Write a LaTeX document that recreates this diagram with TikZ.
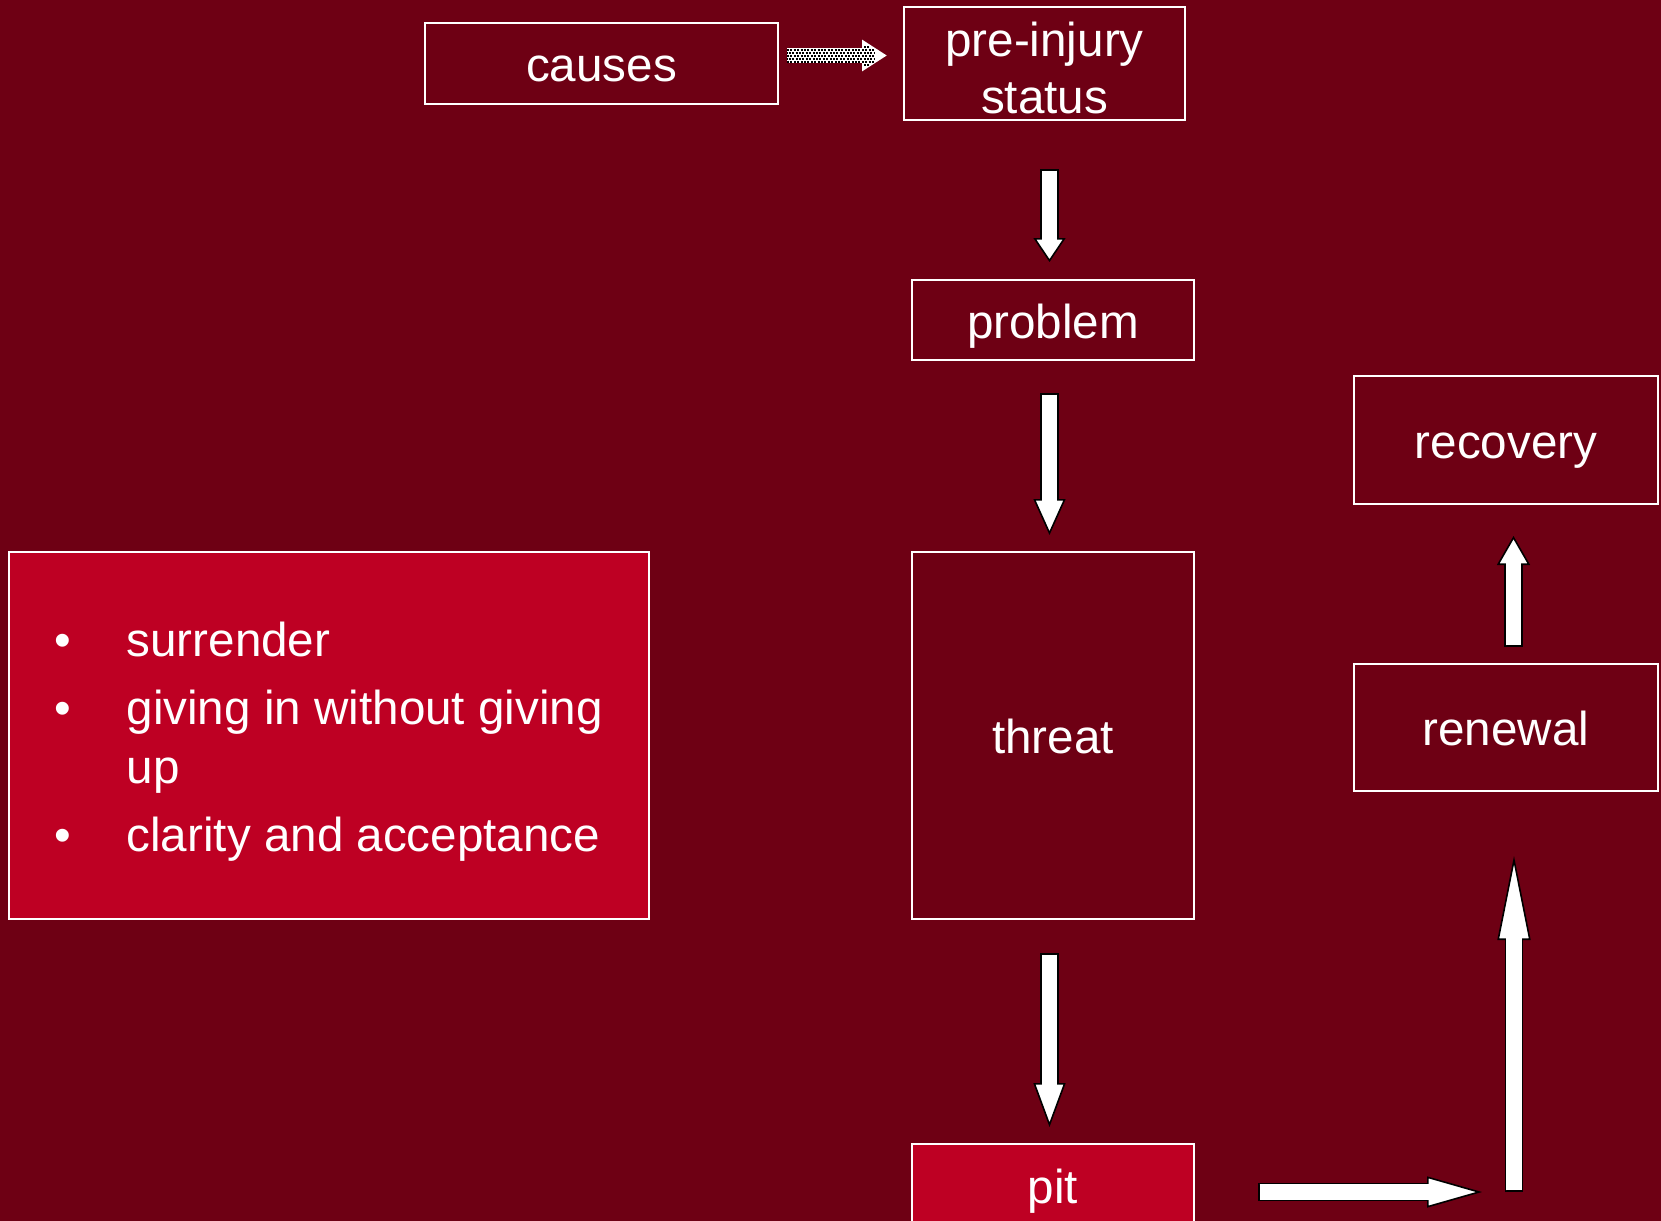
\documentclass[tikz,border=0pt]{standalone}
\usepackage{fontspec}
\setmainfont{Liberation Sans}
\usetikzlibrary{arrows.meta}
\definecolor{wine}{RGB}{110,0,20}
\definecolor{scarlet}{RGB}{190,0,35}
\newcommand{\blockarrow}[4]{%
  \draw[arrowrim, -{Triangle[#1, fill=white, line width=0.8pt]}] #3 -- #4;
  \draw[arrowbody, shorten >=#2] #3 -- #4;}
\begin{document}
\begin{tikzpicture}[
    x=0.5pt, y=-0.5pt,
    box/.style={rectangle, draw=white, line width=1pt, text=white, inner sep=0pt, align=center, font=\fontsize{23.8}{28.5}\selectfont},
    oneline/.style={box, text height=23pt, text depth=5pt},
    arrowrim/.style={black, line width=9.3pt},
    arrowbody/.style={white, line width=7.7pt, shorten <=0.8pt},
    dotrow/.style={draw=black, line width=1pt, dash pattern=on 1pt off 0.7pt, -, shorten >=6pt, transform canvas={yshift=#1}},
    headrow/.style={dotrow=#1, shorten <=38.5pt, shorten >=8.5pt},
    dotarrow/.style={draw=white, line width=7.5pt, -{Triangle[length=12.5pt, width=15pt]},
        postaction={dotrow=-3pt}, postaction={dotrow=-1.5pt, dash phase=0.85pt}, postaction={dotrow=0pt},
        postaction={dotrow=1.5pt, dash phase=0.85pt}, postaction={dotrow=3pt},
        postaction={headrow=-4.5pt}, postaction={headrow=4.5pt}},
]
\useasboundingbox (0,0) rectangle (1661,1221);
\fill[wine] (0,0) rectangle (1661,1221);

\node[oneline, minimum width=176.5pt, minimum height=40.5pt] (causes) at (601.5,63.5) {causes};
\node[box, minimum width=140.5pt, minimum height=56.5pt] (pre) at (1044.5,63.5) {\rule{0pt}{21.5pt}pre-injury\\status};
\node[oneline, minimum width=141pt, minimum height=40pt] (problem) at (1053,320) {problem};
\node[oneline, minimum width=141pt, minimum height=183.5pt] (threat) at (1053,735.5) {threat};
\node[oneline, fill=scarlet, minimum width=141pt, minimum height=41pt] (pit) at (1053,1185) {pit};
\node[oneline, minimum width=152pt, minimum height=63.5pt] (renewal) at (1506,727.5) {renewal};
\node[oneline, minimum width=152pt, minimum height=64pt] (recovery) at (1506,440) {recovery};
\node[box, fill=scarlet, minimum width=320.25pt, minimum height=183.5pt, font=\fontsize{23.8}{29.5}\selectfont] (coping) at (328.75,735.5) {%
  \begin{tabular}{@{}p{36pt}@{}l@{}}
  \rule{0pt}{27.3pt}\textbullet & surrender\\[4.5pt]
  \textbullet & giving in without giving\\
              & up\\[4.5pt]
  \textbullet & clarity and acceptance
  \end{tabular}};
\coordinate (bend) at (1514,1192);

\draw[dotarrow] ([xshift=4pt,yshift=4pt]causes.east) -- ([xshift=-8pt,yshift=4pt]pre.west);
\blockarrow{length=12pt, width=16pt}{11pt}{([xshift=2.5pt,yshift=-24pt]pre.south)}{([xshift=-1.75pt,yshift=8.5pt]problem.north)}
\blockarrow{length=18pt, width=16pt}{17pt}{([xshift=-1.75pt,yshift=-16pt]problem.south)}{([xshift=-1.75pt,yshift=8pt]threat.north)}
\blockarrow{length=22pt, width=16pt}{21pt}{([xshift=-1.75pt,yshift=-16.5pt]threat.south)}{([xshift=-1.75pt,yshift=8pt]pit.north)}
\blockarrow{length=27.5pt, width=15.5pt}{26.5pt}{([xshift=31.5pt,yshift=-3.5pt]pit.east)}{([xshift=-16pt]bend)}
\blockarrow{length=42pt, width=16.5pt}{41pt}{(bend)}{([xshift=4pt,yshift=-32pt]renewal.south)}
\blockarrow{length=14.5pt, width=16.5pt}{13.5pt}{([xshift=3.75pt,yshift=8pt]renewal.north)}{([xshift=3.75pt,yshift=-15.5pt]recovery.south)}
\end{tikzpicture}
\end{document}
